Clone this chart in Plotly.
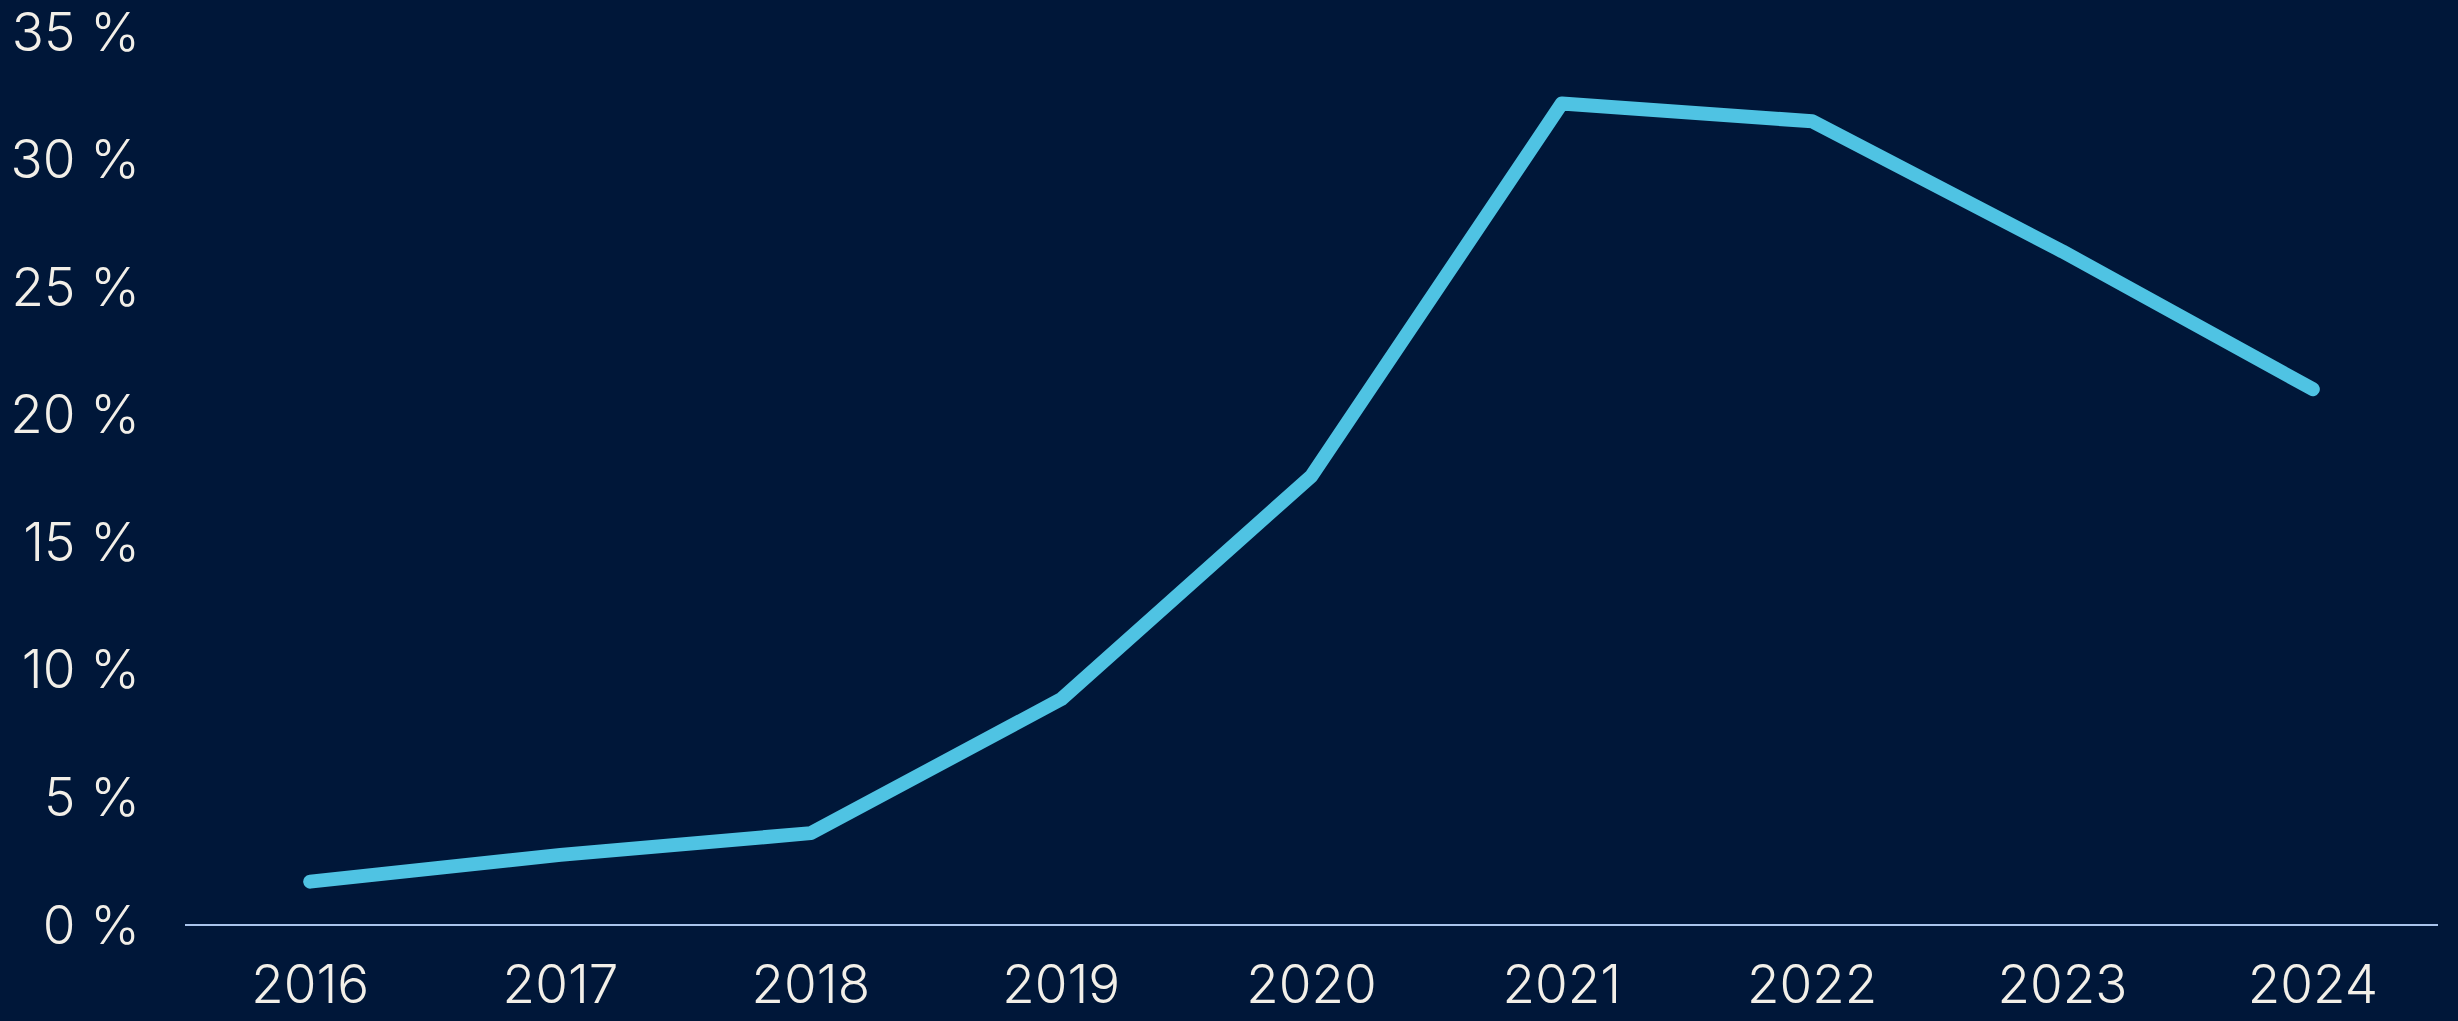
import plotly.graph_objects as go

years = [2016, 2017, 2018, 2019, 2020, 2021, 2022, 2023, 2024]
share = [1.7, 2.75, 3.6, 8.85, 17.6, 32.2, 31.5, 26.4, 21.0]
y_ticks = [0, 5, 10, 15, 20, 25, 30, 35]
y_tick_labels = [f"{v} %" for v in y_ticks]

BG = "#001739"
TXT = "#f2efe8"
LINE = "#4fc3e3"

fig = go.Figure()
fig.add_trace(go.Scatter(
    x=years, y=share, mode="lines",
    line=dict(color=LINE, width=14),
    hoverinfo="skip", showlegend=False,
))

fig.update_layout(
    width=2458, height=1021,
    paper_bgcolor=BG, plot_bgcolor=BG,
    margin=dict(l=185, r=20, t=32, b=96),
    font=dict(family="Inter, Lato, sans-serif", color=TXT, size=53, weight=300),
)
fig.update_xaxes(
    range=[2015.5, 2024.5], tickmode="array", tickvals=years,
    ticktext=[str(y) for y in years],
    showgrid=False, zeroline=False, showline=False, ticks="",
    ticklabelstandoff=24, automargin=False, ticklabeloverflow="allow",
)
fig.update_yaxes(
    range=[0, 35], tickmode="array", tickvals=y_ticks, ticktext=y_tick_labels,
    showgrid=False, zeroline=True, zerolinecolor="#a9c4ec", zerolinewidth=2,
    showline=False, ticks="", ticklabelstandoff=44, automargin=False,
    ticklabeloverflow="allow",
)

fig.write_html(
    "out.html",
    config={"displayModeBar": False},
    post_script=(
        "document.body.style.margin='0';"
        "document.body.style.background='#001739';"
        "document.querySelectorAll('.scatterlayer path.js-line').forEach("
        "function(p){p.style.strokeLinecap='round';p.style.strokeLinejoin='round';});"
    ),
)
